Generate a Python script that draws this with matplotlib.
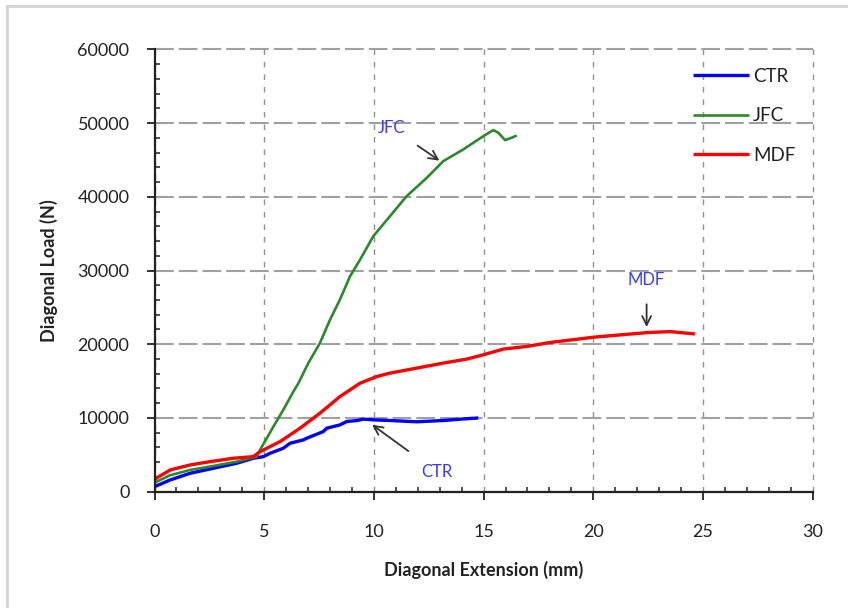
import matplotlib
matplotlib.use("Agg")
import matplotlib.pyplot as plt
from matplotlib.lines import Line2D
from matplotlib.ticker import MultipleLocator

plt.rcParams['font.family'] = ['Lato', 'DejaVu Sans']
plt.rcParams['lines.scale_dashes'] = False

# ---- data ----
ctr_x = [0, 0.71, 1.62, 2.68, 3.74, 4.5, 4.96, 5.27, 5.87, 6.18, 6.78, 6.94, 7.69, 7.85,
         8.45, 8.76, 9.22, 9.52, 10.0, 10.73, 11.95, 13.16, 14.0, 14.76]
ctr_y = [680, 1589, 2497, 3177, 3856, 4537, 4754, 5216, 5895, 6575, 7023, 7254, 8150, 8613,
         9060, 9520, 9645, 9846, 9740, 9656, 9480, 9656, 9850, 10000]

jfc_x = [0, 0.71, 1.62, 2.68, 3.74, 4.66, 4.81, 5.42, 5.87, 6.33, 6.56, 7.01, 7.54,
         8.0, 8.45, 8.91, 9.37, 9.97, 10.73, 11.49, 12.41, 13.16, 14.07, 14.99, 15.44,
         15.67, 15.98, 16.28, 16.51]
jfc_y = [1220, 2228, 2948, 3491, 4075, 4754, 5665, 8830, 11100, 13580, 14720, 17440,
         20160, 23320, 26040, 29200, 31470, 34640, 37356, 40073, 42573, 44827, 46416,
         48223, 49038, 48685, 47680, 48006, 48318]

mdf_x = [0, 0.71, 1.62, 2.53, 3.59, 4.5, 4.81, 5.72, 6.63, 7.54, 8.45, 9.37, 10.13,
         10.73, 11.95, 13.16, 14.23, 14.99, 15.9, 16.96, 18.03, 20.07, 22.54, 23.52, 24.63]
mdf_y = [1684, 2948, 3627, 4075, 4537, 4754, 5430, 6790, 8610, 10650, 12900, 14720,
         15620, 16084, 16763, 17442, 17985, 18570, 19344, 19697, 20240, 20974, 21599,
         21708, 21395]

series_names = ['CTR', 'JFC', 'MDF']
series_colors = ['#0000ff', '#2a8a2a', '#ff0000']
series_widths = [2.4, 1.9, 2.4]

x_ticks = [0, 5, 10, 15, 20, 25, 30]
y_ticks = [0, 10000, 20000, 30000, 40000, 50000, 60000]

fig = plt.figure(figsize=(8.48, 6.08), dpi=100)
ax = fig.add_axes([154.5 / 848, 1 - 491.7 / 608, (812.7 - 154.5) / 848, (491.7 - 49.3) / 608])

for xs, ys, name, col, lw in zip([ctr_x, jfc_x, mdf_x], [ctr_y, jfc_y, mdf_y],
                                 series_names, series_colors, series_widths):
    ax.plot(xs, ys, color=col, lw=lw, label=name, solid_capstyle='butt',
            solid_joinstyle='round')

ax.set_xlim(0, 30)
ax.set_ylim(0, 60000)
ax.set_xticks(x_ticks)
ax.set_yticks(y_ticks)
ax.xaxis.set_minor_locator(MultipleLocator(1))
ax.yaxis.set_minor_locator(MultipleLocator(2000))

ax.tick_params(which='major', direction='out', length=6, width=1.3, labelsize=13,
               colors='#222222')
ax.tick_params(axis='x', which='major', pad=17)
ax.tick_params(axis='y', which='major', pad=12)
ax.tick_params(which='minor', direction='in', length=3.5, width=1.1, colors='#222222')

for s in ['top', 'right']:
    ax.spines[s].set_visible(False)
for s in ['left', 'bottom']:
    ax.spines[s].set_linewidth(1.6)
    ax.spines[s].set_color('#222222')

ax.set_axisbelow(True)
ax.grid(axis='y', which='major', color='#a0a0a0', lw=1.5, dashes=(13.5, 3.6))
ax.grid(axis='x', which='major', color='#909090', lw=1.0, dashes=(4, 5))
for gl in ax.xaxis.get_gridlines() + ax.yaxis.get_gridlines():
    gl.set_clip_on(False)

ax.set_xlabel('Diagonal Extension (mm)', fontsize=13, fontweight='bold', color='#222222',
              labelpad=15)
ax.set_ylabel('Diagonal Load (N)', fontsize=13, fontweight='bold', color='#222222',
              labelpad=14)

leg = ax.legend(loc='upper left', bbox_to_anchor=(0.818, 0.958), frameon=False,
                fontsize=13.5, handlelength=3.0, handletextpad=0.2, labelspacing=1.2,
                borderpad=0, borderaxespad=0)
for t in leg.get_texts():
    t.set_color('#222222')

ann_color = '#3c3cf5'
arrow = dict(arrowstyle='->', color='#333333', lw=1.3, mutation_scale=16)
ax.annotate('JFC', xy=(13.09, 44690), xytext=(10.81, 49360), color=ann_color,
            fontsize=12, ha='center', va='center', arrowprops=dict(arrow, shrinkA=9))
ax.annotate('CTR', xy=(9.82, 9300), xytext=(12.86, 2717), color=ann_color,
            fontsize=12, ha='center', va='center', arrowprops=dict(arrow, shrinkA=12))
ax.annotate('MDF', xy=(22.43, 21960), xytext=(22.43, 28760), color=ann_color,
            fontsize=12, ha='center', va='center', arrowprops=dict(arrow, shrinkA=10))

# chart-area border (light gray, top and left visible)
fig.add_artist(Line2D([7 / 848, 1.0], [1 - 6 / 608, 1 - 6 / 608], transform=fig.transFigure,
                      color='#d4d4d4', lw=2))
fig.add_artist(Line2D([7 / 848, 7 / 848], [0.0, 1 - 6 / 608], transform=fig.transFigure,
                      color='#d4d4d4', lw=2))

fig.savefig('out.png', dpi=100)
